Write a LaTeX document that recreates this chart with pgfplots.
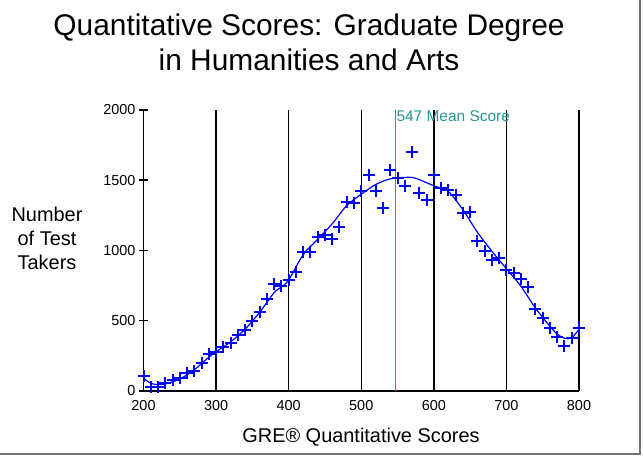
\documentclass[border=0pt]{standalone}
\usepackage{pgfplots}
\pgfplotsset{compat=1.18}
\usepackage{fontspec}
\setmainfont{Liberation Sans}
\definecolor{meanteal}{RGB}{38,150,150}
\definecolor{ptblue}{RGB}{0,0,255}
\pgfplotstableread{
x y
200 107
210 25
220 28
230 54
240 78
250 90
260 130
270 145
280 197
290 263
300 280
310 311
320 344
330 398
340 434
350 500
360 565
370 652
380 762
390 747
400 790
410 849
420 991
430 991
440 1098
450 1110
460 1080
470 1165
480 1347
490 1335
500 1425
510 1537
520 1425
530 1300
540 1573
550 1514
560 1459
570 1703
580 1406
590 1359
600 1537
610 1445
620 1431
630 1395
640 1265
650 1276
660 1070
670 998
680 932
690 944
700 861
710 838
720 795
730 738
740 581
750 517
760 446
770 382
780 320
790 375
800 450
}\pointstable
\pgfplotstableread{
x y
200 90
210 55
220 45
230 50
240 65
250 85
260 115
270 150
280 195
290 240
300 280
320 350
340 440
360 560
380 700
390 740
400 790
420 970
440 1080
460 1190
480 1320
500 1400
520 1470
540 1510
560 1520
570 1520
580 1505
600 1460
620 1420
640 1290
660 1130
680 995
700 870
720 745
740 590
760 460
770 405
780 375
790 378
800 440
}\curvetable
\begin{document}
\begin{tikzpicture}[x=1bp,y=1bp]
\useasboundingbox (0,0) rectangle (644,458);
\fill[white] (0,0) rectangle (644,458);
% frame lines (right and bottom)
\draw[black!55, line width=1.5bp] (0,4) -- (640,4) -- (640,458);
% title
\node[align=center, font=\fontsize{30}{35}\selectfont] at (309,416) {Quantitative Scores: Graduate Degree\\in Humanities and Arts};
% y label
\node[align=center, font=\fontsize{20}{24}\selectfont] at (47,220) {Number\\of Test\\Takers};
% x label
\node[font=\fontsize{20}{24}\selectfont] at (361,21) {GRE® Quantitative Scores};
\begin{axis}[
  at={(143.5bp,67bp)}, anchor=south west,
  scale only axis, width=435.5bp, height=281bp,
  xmin=200, xmax=800, ymin=0, ymax=2000,
  axis x line=bottom, axis y line=left,
  axis line style={-, black, line width=1.5bp},
  xtick={200,300,...,800}, ytick={0,500,...,2000},
  xmajorgrids, major grid style={black, line width=1.5bp},
  tick style={black, line width=1.5bp},
  xtick style={draw=none},
  ytick align=center, major tick length=9bp,
  ticklabel style={font=\fontsize{14.5}{17}\selectfont},
  /pgf/number format/assume math mode=true,
  /pgf/number format/1000 sep={},
  xticklabel style={yshift=-1bp},
  clip=false,
]
\addplot[meanteal, line width=1.6bp] coordinates {(547,0) (547,2000)};
\node[anchor=north west, inner sep=1bp, text=meanteal, font=\fontsize{15.5}{17}\selectfont] at (axis cs:547,2000) {547 Mean Score};
\addplot[draw=ptblue, line width=1.2bp, smooth, no marks] table[x=x,y=y] {\curvetable};
\addplot[draw=ptblue, only marks, mark=+, mark size=6bp, mark options={draw=ptblue, fill=ptblue, line width=2bp}] table[x=x,y=y] {\pointstable};
\end{axis}
\end{tikzpicture}
\end{document}
